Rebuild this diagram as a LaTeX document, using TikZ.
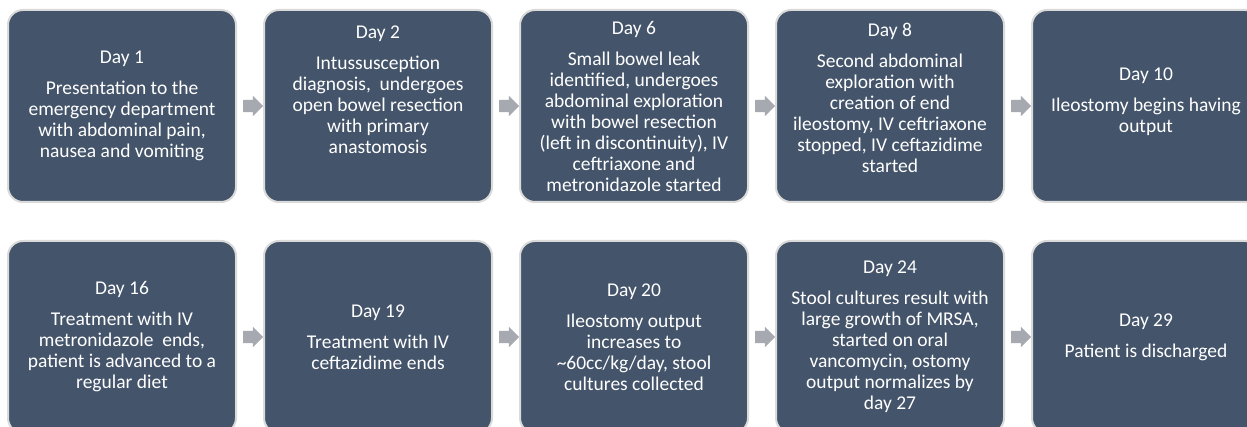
\documentclass[tikz,border=0pt]{standalone}
\usepackage{fontspec}
\setmainfont{Carlito}
\usetikzlibrary{shapes.arrows,calc}
\definecolor{slate}{RGB}{68,84,106}
\definecolor{rimgrey}{RGB}{218,218,218}
\definecolor{arrowgrey}{RGB}{166,170,176}
\tikzset{
  daybox/.style = {draw = rimgrey, line width = 2pt, fill = slate, rounded corners = 15pt,
                   minimum width = 228pt, minimum height = 192pt, inner sep = 0pt},
  daytext/.style = {text = white, align = center, inner sep = 0pt,
                    font = \fontsize{19.5}{21}\selectfont},
  nextarrow/.style = {single arrow, fill = arrowgrey, draw = none, inner xsep = 0pt, inner ysep = 6pt,
                      minimum height = 20pt, single arrow head extend = 4pt}
}
\begin{document}
\begin{tikzpicture}[x = 1pt, y = -1pt]
	\useasboundingbox (0,0) rectangle (1247,427);
	\foreach \n/\x/\y in {1/122/106, 2/378/106, 3/634/106, 4/890/106, 5/1146/106,
	                      6/122/337, 7/378/337, 8/634/337, 9/890/337, 10/1146/337}
		\node[daybox] (d\n) at (\x,\y) {};
	\foreach \a/\b in {1/2, 2/3, 3/4, 4/5, 6/7, 7/8, 8/9, 9/10}
		\node[nextarrow] (a\a) at ($(d\a.east)!.5!(d\b.west)$) {};
	\node[daytext] (t1) at (d1.center) {Day 1\\[10pt]Presentation to the\\emergency department\\with abdominal pain,\\nausea and vomiting};
	\node[daytext] (t2) at ([yshift=16pt]d2.center) {Day 2\\[10pt]Intussusception\\diagnosis,~ undergoes\\open bowel resection\\with primary\\anastomosis};
	\node[daytext] (t3) at (d3.center) {Day 6\\[10pt]Small bowel leak\\identified, undergoes\\abdominal exploration\\with bowel resection\\(left in discontinuity), IV\\ceftriaxone and\\metronidazole started};
	\node[daytext] (t4) at ([yshift=8pt]d4.center) {Day 8\\[10pt]Second abdominal\\exploration with\\creation of end\\ileostomy, IV ceftriaxone\\stopped, IV ceftazidime\\started};
	\node[daytext] (t5) at ([yshift=4pt]d5.center) {Day 10\\[10pt]Ileostomy begins having\\output};
	\node[daytext] (t6) at (d6.center) {Day 16\\[10pt]Treatment with IV\\metronidazole~ ends,\\patient is advanced to a\\regular diet};
	\node[daytext] (t7) at (d7.center) {Day 19\\[10pt]Treatment with IV\\ceftazidime ends};
	\node[daytext] (t8) at (d8.center) {Day 20\\[10pt]Ileostomy output\\increases to\\\textasciitilde60cc/kg/day, stool\\cultures collected};
	\node[daytext] (t9) at (d9.center) {Day 24\\[10pt]Stool cultures result with\\large growth of MRSA,\\started on oral\\vancomycin, ostomy\\output normalizes by\\day 27};
	\node[daytext] (t10) at (d10.center) {Day 29\\[10pt]Patient is discharged};
\end{tikzpicture}
\end{document}
